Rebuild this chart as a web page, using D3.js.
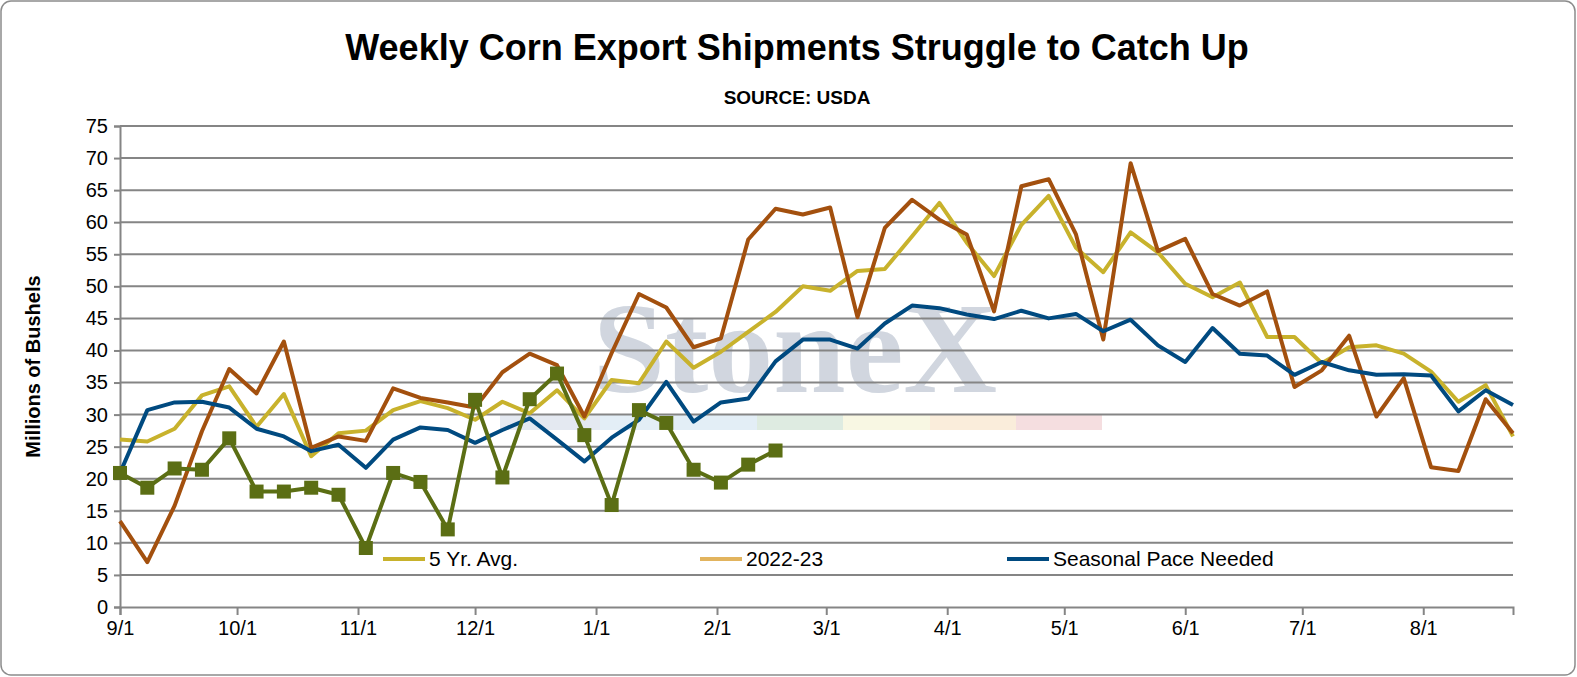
<html>
<head>
<meta charset="utf-8">
<script src="https://d3js.org/d3.v7.min.js"></script>
<style>
body{margin:0;background:#fff;}
svg text{font-family:"Liberation Sans",Arial,sans-serif;}
svg text.wm{font-family:"Liberation Serif","DejaVu Serif",serif;}
</style>
</head>
<body>
<script>
// weekly values, week 0 = 9/1
var avg5 = [26.1,25.8,27.8,33,34.4,28.1,33.2,23.5,27.1,27.5,30.7,32.1,31,29.2,32,30.2,33.8,29.4,35.4,34.9,41.4,37.3,39.8,42.9,46,
  50,49.3,52.4,52.7,57.8,63,56.8,51.6,59.6,64.1,56,52.2,58.4,55.3,50.4,48.3,50.6,42.1,42.1,38,40.5,40.8,39.5,36.7,32,34.6,26.6];
var prior = [13.4,7,15.8,27.4,37.1,33.3,41.4,24.8,26.6,25.9,34.1,32.6,31.9,31.1,36.6,39.5,37.7,29.7,39.6,48.8,46.7,40.5,41.9,57.3,62.1,
  61.2,62.3,45.2,59.1,63.5,60.4,58.1,46.1,65.6,66.7,58.1,41.7,69.2,55.5,57.4,48.8,47,49.2,34.3,36.9,42.3,29.7,35.7,21.8,21.2,32.4,27.1];
var pace = [20.9,30.7,31.9,32,31.1,27.8,26.6,24.3,25.3,21.7,26.1,28,27.6,25.6,27.6,29.4,26.1,22.7,26.4,29.2,35.1,28.9,31.9,32.5,38.3,
  41.7,41.7,40.3,44.2,47,46.6,45.6,44.9,46.2,45,45.7,43,44.8,40.8,38.2,43.5,39.5,39.2,36.2,38.2,36.9,36.2,36.3,36.1,30.5,33.8,31.5];
var cur = [20.9,18.6,21.6,21.4,26.3,18,18,18.6,17.5,9.2,20.9,19.5,12.1,32.3,20.2,32.4,36.4,26.8,15.9,30.7,28.7,21.4,19.4,22.2,24.4];
var yTicks = d3.range(0,80,5);
var monthTicks = ["2022-09-01","2022-10-01","2022-11-01","2022-12-01","2023-01-01","2023-02-01","2023-03-01",
  "2023-04-01","2023-05-01","2023-06-01","2023-07-01","2023-08-01"];
var legendItems = [["5 Yr. Avg.","#c8b22c"],["2022-23","#e2b45e"],["Seasonal Pace Needed","#004a80"]];
var stripes = ["#dde4ee","#dceaf4","#d6e6da","#f6f5dc","#f9e8d2","#f3d6d8"];

var W=1577,H=677, L=120, R=1513, T=126, B=607;
var start = new Date(Date.UTC(2022,8,1));
function wk(i){return new Date(start.getTime()+i*7*86400000);}
var x = d3.scaleUtc().domain([start, wk(51)]).range([L,R]);
var y = d3.scaleLinear().domain([0,75]).range([B,T]);

var svg = d3.select("body").append("svg").attr("width",W).attr("height",H);
svg.append("rect").attr("x",1).attr("y",1).attr("width",W-3).attr("height",H-3).attr("rx",10)
  .attr("fill","#fff").attr("stroke","#8c8c8c").attr("stroke-width",1.5);

svg.append("text").attr("x",797).attr("y",60).attr("text-anchor","middle")
  .attr("font-size",36).attr("font-weight","bold").text("Weekly Corn Export Shipments Struggle to Catch Up");
svg.append("text").attr("x",797).attr("y",104).attr("text-anchor","middle")
  .attr("font-size",19).attr("font-weight","bold").text("SOURCE: USDA");
svg.append("text").attr("transform","translate(40,"+((T+B)/2)+") rotate(-90)").attr("text-anchor","middle")
  .attr("font-size",20).attr("font-weight","bold").text("Millions of Bushels");

// watermark
svg.append("text").attr("class","wm").attr("x",795).attr("y",392).attr("text-anchor","middle")
  .attr("font-size",130).attr("font-weight","bold").attr("fill","#c9d0da").attr("opacity",0.85).text("StoneX");
svg.append("g").selectAll("rect").data(stripes).join("rect")
  .attr("x",function(d,i){return [500,600,757,843,930,1016][i];})
  .attr("width",function(d,i){return [100,157,86,87,86,86][i];})
  .attr("y",415).attr("height",15).attr("fill",function(d){return d;}).attr("opacity",0.8);

// grid
svg.append("g").selectAll("line").data(yTicks.slice(1)).join("line")
  .attr("x1",L).attr("x2",R).attr("y1",y).attr("y2",y).attr("stroke","#858585").attr("stroke-width",2);

var ya = svg.append("g").attr("transform","translate("+L+",0)")
  .call(d3.axisLeft(y).tickValues(yTicks).tickSize(6).tickPadding(6));
ya.selectAll("text").attr("font-size",20).attr("fill","#000");
ya.selectAll("line,path").attr("stroke","#858585").attr("stroke-width",2);

var xa = svg.append("g").attr("transform","translate(0,"+B+")")
  .call(d3.axisBottom(x).tickValues(monthTicks.map(function(s){return new Date(s+"T00:00:00Z");}))
  .tickFormat(function(d){return (d.getUTCMonth()+1)+"/1";}).tickSize(8).tickPadding(6));
xa.selectAll("text").attr("font-size",20).attr("fill","#000");
xa.selectAll("line,path").attr("stroke","#858585").attr("stroke-width",2);

function line(data,color){
  svg.append("path").datum(data).attr("fill","none").attr("stroke",color).attr("stroke-width",4)
    .attr("stroke-linejoin","round")
    .attr("d",d3.line().x(function(d,i){return x(wk(i));}).y(function(d){return y(d);}));
}
line(avg5,"#c8b22c");
line(prior,"#a3500e");
line(pace,"#004a80");
line(cur,"#5b6e14");
svg.append("g").selectAll("rect").data(cur).join("rect")
  .attr("x",function(d,i){return x(wk(i))-7;}).attr("y",function(d){return y(d)-7;})
  .attr("width",14).attr("height",14).attr("fill","#5b6e14");

// legend
var lx = [383,700,1007];
var lg = svg.append("g").selectAll("g").data(legendItems).join("g")
  .attr("transform",function(d,i){return "translate("+lx[i]+",559)";});
lg.append("rect").attr("x",-8).attr("y",-14).attr("width",function(d){return d[0].length*11+60;}).attr("height",28).attr("fill","#fff");
lg.append("line").attr("x1",0).attr("x2",42).attr("stroke",function(d){return d[1];}).attr("stroke-width",4);
lg.append("text").attr("x",46).attr("y",7).attr("font-size",21).text(function(d){return d[0];});
</script>
</body>
</html>
